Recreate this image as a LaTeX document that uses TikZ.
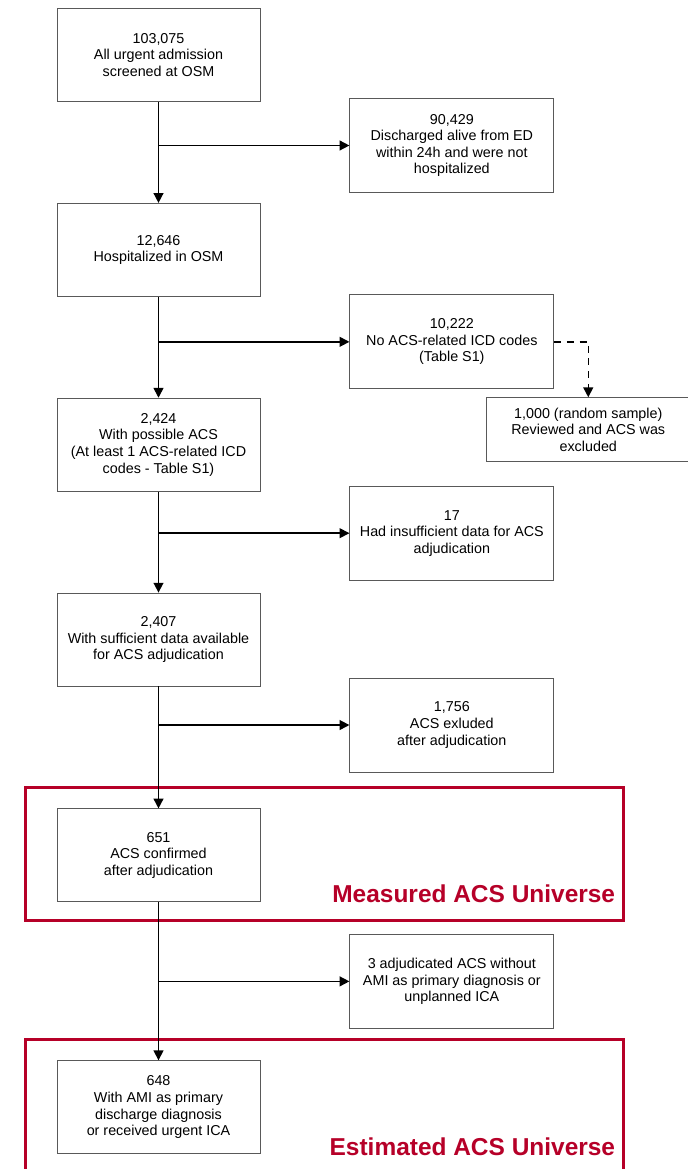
\documentclass[tikz,border=0pt]{standalone}
\usepackage{fontspec}
\setmainfont{Liberation Sans}
\usepackage{xcolor}
\definecolor{acsred}{RGB}{182,0,40}
\usetikzlibrary{arrows.meta, positioning, calc}

\begin{document}
\begin{tikzpicture}[
        node distance=2.525cm and 2.225cm,
        mainbox/.style={
            rectangle,
            draw=black!65,
            line width=0.6pt,
            align=center,
            inner sep=2pt,
            minimum width=5.075cm,
            minimum height=2.325cm,
            font=\fontsize{10.2}{11.8}\selectfont
        },
        sidebox/.style={
            mainbox,
            minimum width=5.1cm,
            minimum height=2.35cm
        },
        samplebox/.style={
            mainbox,
            minimum height=1.6cm
        },
        arrow/.style={
            -{Triangle[length=7pt,width=7pt]},
            line width=1.1pt
        },
        dasharrow/.style={
            arrow,
            dash pattern=on 5pt off 4pt
        },
        universe/.style={
            draw=acsred,
            line width=2.2pt
        },
        universelabel/.style={
            text=acsred,
            inner sep=0pt,
            anchor=base east,
            font=\fontsize{17.4}{20}\selectfont\bfseries
        }
    ]

    \useasboundingbox (-3.9625,1.375) rectangle (13.2125,-27.85);

    % nodes
    \node[mainbox] (screened) at (0,0) {
        103,075\\
        All urgent admission\\
        screened at OSM
    };

    \node[sidebox, right=of screened, yshift=-2.2625cm] (discharged) {
        90,429\\
        Discharged alive from ED\\
        within 24h and were not\\
        hospitalized
    };

    \node[mainbox, below=of screened] (hosp) {
        12,646\\
        Hospitalized in OSM
    };

    \node[sidebox, right=of hosp, yshift=-2.3cm] (noacs) {
        10,222\\
        No ACS-related ICD codes\\
        (Table S1)
    };

    \node[samplebox, anchor=north] (sample) at ($(noacs.south east)+(0.85,-0.2)$) {
        1,000 (random sample)\\
        Reviewed and ACS was\\
        excluded
    };

    \node[mainbox, below=of hosp] (possible) {
        2,424\\
        With possible ACS\\
        (At least 1 ACS-related ICD\\
        codes - Table S1)
    };

    \node[sidebox, right=of possible, yshift=-2.2125cm] (insuff) {
        17\\
        Had insufficient data for ACS\\
        adjudication
    };

    \node[mainbox, below=of possible] (sufficient) {
        2,407\\
        With sufficient data available\\
        for ACS adjudication
    };

    \node[sidebox, right=of sufficient, yshift=-2.1375cm] (excluded) {
        1,756\\
        ACS exluded\\
        after adjudication
    };

    \node[mainbox, below=3.05cm of sufficient] (confirmed) {
        651\\
        ACS confirmed\\
        after adjudication
    };

    \node[sidebox, right=of confirmed, yshift=-3.15cm] (noami) {
        3 adjudicated ACS without\\
        AMI as primary diagnosis or\\
        unplanned ICA
    };

    \node[mainbox, below=3.95cm of confirmed] (ami) {
        648\\
        With AMI as primary\\
        discharge diagnosis\\
        or received urgent ICA
    };

    % frames
    \coordinate (mtop) at ($(confirmed.north west)+(-0.775,0.525)$);
    \coordinate (mbot) at ($(confirmed.south east)+(9.075,-0.45)$);
    \draw[universe] (mtop) rectangle (mbot);
    \node[universelabel] (mlabel) at ($(mbot)+(-0.2,0.45)$) {Measured ACS Universe};

    \coordinate (etop) at ($(ami.north west)+(-0.775,0.525)$);
    \coordinate (ebot) at ($(ami.south east)+(9.075,-1.2)$);
    \draw[universe] (etop) rectangle (ebot);
    \node[universelabel] (elabel) at ($(ami.south east)+(8.875,-0.025)$) {Estimated ACS Universe};

    % arrows
    \draw[arrow] (screened) -- (hosp);
    \draw[arrow] (hosp) -- (possible);
    \draw[arrow] (possible) -- (sufficient);
    \draw[arrow] (sufficient) -- (confirmed);
    \draw[arrow] (confirmed) -- (ami);

    \draw[arrow] (screened.south |- discharged.west) -- (discharged.west);
    \draw[arrow] (hosp.south |- noacs.west) -- (noacs.west);
    \draw[arrow] (possible.south |- insuff.west) -- (insuff.west);
    \draw[arrow] (sufficient.south |- excluded.west) -- (excluded.west);
    \draw[arrow] (confirmed.south |- noami.west) -- (noami.west);

    \draw[dasharrow] (noacs.east) -| (sample.north);

\end{tikzpicture}
\end{document}
